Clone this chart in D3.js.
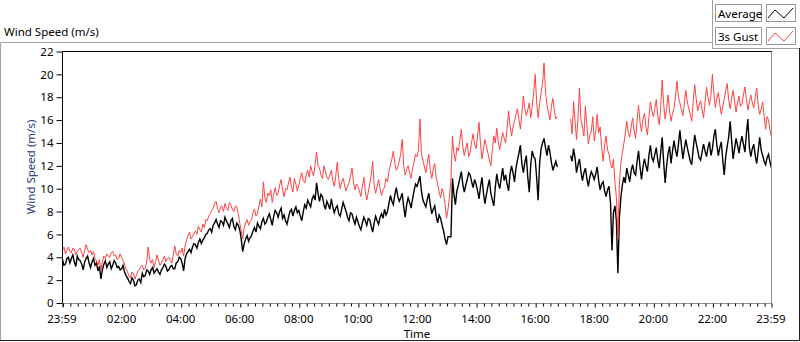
<!DOCTYPE html>
<html>
<head>
<meta charset="utf-8">
<script src="https://cdn.jsdelivr.net/npm/d3@7"></script>
<style>
  body { margin: 0; background: #fff; }
  svg { display: block; font-family: 'Noto Sans', sans-serif; }
</style>
</head>
<body>
<script>
// Samples every 3 minutes, 23:59 -> 23:59 next day, one row per hour (null = no data)
const stepMinutes = 3

const avgSpeed = [
  3.8, 3.3, 3.4, 3.9, 4.0, 3.5, 3.9, 4.2, 3.6, 3.2, 4.1, 3.8, 3.7, 3.4, 2.9, 3.6, 3.9, 4.1, 3.5, 3.1,
  3.6, 3.9, 3.3, 3.5, 2.8, 3.2, 2.1, 2.9, 3.4, 3.7, 3.1, 3.4, 3.6, 3.0, 3.3, 3.7, 3.5, 3.1, 3.2, 2.9,
  3.0, 3.3, 2.7, 2.4, 2.2, 1.9, 1.7, 2.2, 2.0, 1.5, 1.6, 2.0, 2.1, 1.8, 2.6, 2.3, 2.4, 2.9, 2.8, 2.5,
  2.9, 3.1, 2.6, 2.8, 3.0, 2.7, 2.5, 2.9, 3.1, 3.4, 3.2, 2.8, 2.9, 3.2, 3.3, 3.0, 3.0, 3.5, 3.6, 4.0,
  3.9, 3.5, 2.8, 3.9, 4.3, 4.5, 4.7, 4.4, 4.9, 5.2, 5.1, 4.8, 5.3, 5.6, 5.2, 5.5, 5.7, 6.0, 6.1, 6.4,
  6.5, 6.2, 6.8, 7.0, 7.3, 6.9, 6.6, 7.2, 7.1, 6.8, 7.5, 7.2, 6.9, 6.6, 7.2, 7.4, 6.7, 6.4, 7.0, 6.8,
  6.4, 5.6, 4.5, 5.2, 5.6, 5.9, 5.4, 5.7, 5.9, 6.3, 6.6, 6.2, 7.0, 6.7, 6.5, 7.1, 7.4, 6.9, 7.1, 7.5,
  7.8, 7.3, 6.8, 7.6, 8.1, 7.9, 7.5, 8.0, 8.3, 7.4, 7.7, 7.2, 6.9, 7.5, 8.0, 8.2, 7.6, 8.1, 8.4, 7.9,
  8.1, 7.6, 7.2, 8.0, 8.6, 8.3, 9.0, 8.7, 8.4, 9.1, 9.4, 9.0, 10.5, 9.6, 8.9, 9.5, 9.3, 8.6, 8.2, 8.9,
  8.6, 8.2, 9.1, 8.4, 7.9, 8.3, 8.5, 7.8, 7.6, 8.2, 8.8, 8.4, 8.0, 7.5, 7.2, 7.9, 7.8, 7.3, 6.9, 7.5,
  7.1, 6.7, 6.4, 7.0, 7.5, 7.2, 6.8, 7.4, 7.3, 6.7, 6.2, 7.0, 7.6, 7.2, 6.9, 7.5, 7.8, 7.4, 8.2, 7.7,
  8.0, 8.7, 9.4, 8.9, 8.6, 9.5, 10.1, 9.3, 8.9, 9.2, 9.6, 8.4, 7.5, 8.6, 9.2, 8.8, 8.3, 9.1, 9.8, 10.4,
  10.2, 10.6, 11.1, 9.8, 9.0, 8.7, 8.4, 9.1, 9.6, 8.6, 7.8, 8.2, 8.5, 7.6, 7.0, 7.7, 7.4, 6.8, 6.3, 5.6,
  5.1, 5.8, 5.8, 5.8, 10.9, 9.5, 8.6, 9.8, 10.3, 10.9, 11.5, 10.4, 9.7, 10.3, 10.8, 11.4, 11.2, 10.6, 10.1, 10.8,
  10.4, 9.8, 9.1, 10.2, 11.0, 9.6, 8.7, 9.5, 10.2, 10.8, 9.6, 9.0, 8.5, 10.1, 11.3, 10.5, 10.0, 10.9, 11.8, 10.7,
  11.2, 10.4, 9.8, 11.3, 12.0, 11.4, 10.6, 11.8, 12.5, 13.1, 13.8, 12.2, 11.4, 12.3, 12.9, 11.0, 9.7, 12.1, 13.3, 12.8,
  12.6, 11.0, 9.0, 12.2, 13.5, 14.0, 14.4, 13.6, 12.9, 13.8, 13.2, 12.3, 11.6, 12.0, 12.4, 11.9, null, null, null, null,
  null, null, null, null, 12.9, 12.4, 13.5, 12.7, 11.4, 12.1, 12.6, 11.5, 10.7, 11.4, 11.8, 10.9, 10.2, 11.0, 11.5, 11.2,
  10.8, 11.3, 11.9, 10.7, 9.9, 10.4, 10.6, 9.8, 9.3, 9.9, 10.2, 8.8, 4.6, 7.9, 8.5, 7.2, 2.6, 7.4, 9.2, 10.3,
  11.0, 10.5, 11.8, 11.2, 10.6, 11.6, 12.1, 11.4, 11.2, 12.4, 13.3, 11.9, 10.8, 11.9, 12.6, 12.0, 11.5, 12.9, 13.8, 12.7,
  12.4, 13.0, 13.6, 12.5, 11.8, 13.2, 14.5, 12.3, 10.5, 12.0, 13.1, 13.7, 12.2, 13.3, 14.2, 13.4, 12.8, 13.9, 15.1, 13.8,
  12.6, 13.5, 14.3, 13.6, 13.0, 12.4, 12.1, 13.5, 14.7, 14.0, 13.4, 12.7, 12.5, 13.2, 13.9, 13.3, 12.8, 13.6, 14.1, 12.9,
  13.5, 14.6, 15.2, 13.8, 12.9, 13.6, 14.1, 12.5, 11.2, 12.8, 13.7, 14.5, 15.9, 14.2, 12.6, 13.5, 14.4, 13.8, 13.1, 14.0,
  14.6, 13.9, 13.2, 14.8, 16.1, 13.6, 12.8, 13.5, 13.9, 12.9, 12.2, 13.3, 14.5, 13.4, 12.9, 12.4, 12.1, 12.7, 13.0, 12.3,
  11.8
]

const gustSpeed = [
  4.6, 4.9, 4.3, 4.6, 4.9, 4.5, 4.4, 4.8, 4.7, 4.2, 4.5, 4.7, 4.8, 4.4, 4.0, 4.6, 5.1, 4.7, 4.4, 4.6,
  4.2, 4.5, 3.9, 3.7, 3.3, 3.8, 2.9, 3.6, 4.1, 3.9, 4.3, 4.1, 4.0, 4.4, 4.5, 4.1, 4.2, 3.8, 3.9, 4.3,
  4.0, 3.7, 3.4, 3.0, 2.7, 2.4, 2.2, 2.7, 2.6, 2.1, 2.4, 2.8, 2.9, 3.2, 3.3, 2.9, 3.0, 3.6, 4.9, 3.8,
  3.5, 3.8, 3.1, 3.6, 4.2, 3.7, 3.3, 3.5, 3.8, 4.1, 3.6, 3.9, 4.0, 3.7, 3.5, 4.2, 5.0, 4.3, 4.1, 4.6,
  4.4, 4.8, 4.1, 5.0, 5.5, 5.9, 6.2, 5.6, 5.8, 6.1, 6.3, 6.0, 6.7, 6.4, 6.2, 6.9, 6.6, 7.3, 7.2, 7.6,
  7.8, 8.1, 8.3, 8.7, 8.9, 8.2, 7.9, 8.4, 8.5, 8.0, 8.7, 8.3, 8.1, 8.8, 8.6, 8.2, 8.0, 8.5, 8.4, 7.8,
  7.0, 6.3, 5.6, 6.6, 7.0, 7.3, 6.8, 7.1, 7.3, 7.9, 8.2, 7.6, 7.8, 8.5, 9.1, 8.4, 10.6, 9.2, 8.8, 9.6,
  9.4, 9.9, 8.8, 9.5, 10.1, 9.4, 9.6, 10.3, 10.8, 9.9, 9.3, 10.0, 9.9, 10.5, 11.0, 10.2, 9.7, 10.9, 10.4, 9.8,
  10.3, 10.9, 11.4, 10.7, 10.5, 11.2, 11.6, 11.0, 12.0, 11.5, 11.1, 12.1, 13.2, 12.0, 11.8, 11.2, 10.9, 12.0, 11.5, 11.0,
  10.8, 11.2, 11.6, 10.7, 10.2, 11.1, 12.3, 10.9, 10.0, 10.6, 10.9, 10.3, 9.8, 10.2, 10.5, 11.1, 11.8, 10.6, 9.9, 10.4,
  10.2, 9.8, 9.3, 10.2, 11.0, 9.8, 9.0, 9.7, 10.4, 11.2, 12.4, 10.3, 9.6, 10.2, 10.8, 10.0, 9.4, 9.9, 10.1, 10.9,
  10.6, 11.5, 12.1, 12.6, 13.3, 12.2, 11.6, 11.9, 12.4, 13.1, 14.3, 12.0, 11.2, 11.7, 12.0, 11.4, 10.9, 11.8, 12.3, 13.0,
  12.8, 13.4, 16.1, 13.0, 12.5, 11.9, 11.4, 12.3, 13.0, 11.6, 10.9, 11.7, 12.2, 11.0, 10.4, 9.7, 9.2, 10.0, 9.6, 8.6,
  7.4, 8.2, 9.3, 10.8, 14.6, 13.1, 12.4, 13.6, 13.3, 14.2, 15.2, 13.7, 12.9, 13.5, 14.0, 12.8, 13.2, 14.1, 14.8, 13.9,
  13.5, 14.6, 15.8, 13.9, 12.6, 13.5, 14.3, 13.7, 13.1, 12.5, 12.0, 13.4, 14.6, 14.0, 15.3, 14.1, 13.4, 14.2, 14.9, 14.4,
  14.0, 15.3, 16.8, 15.5, 14.6, 15.4, 15.9, 16.5, 17.0, 16.1, 15.2, 16.6, 18.1, 17.0, 16.4, 16.9, 17.5, 16.2, 17.2, 18.4,
  20.0, 17.6, 16.2, 17.4, 18.4, 19.2, 21.0, 18.5, 17.3, 16.6, 16.0, 17.2, 17.9, 16.8, 16.1, 16.3, null, null, null, null,
  null, null, null, null, 16.1, 14.8, 17.6, 15.9, 14.3, 16.2, 18.8, 16.0, 15.4, 14.6, 17.2, 15.5, 13.9, 14.7, 15.0, 16.3,
  14.2, 15.0, 16.5, 14.9, 15.4, 13.6, 12.4, 13.8, 14.6, 13.4, 13.0, 12.2, 11.8, 12.6, 10.6, 9.2, 5.6, 10.3, 12.3, 13.1,
  13.9, 14.8, 15.9, 14.9, 14.5, 15.4, 16.2, 15.1, 14.4, 16.0, 17.3, 15.8, 15.0, 16.1, 16.6, 15.4, 14.7, 16.2, 17.6, 16.8,
  16.3, 17.0, 17.8, 16.4, 15.6, 17.2, 19.5, 17.4, 16.1, 17.0, 18.2, 16.8, 15.9, 16.6, 17.0, 18.1, 19.4, 18.0, 17.5, 16.9,
  16.4, 17.5, 18.6, 17.6, 17.0, 16.5, 15.9, 17.6, 19.1, 17.9, 16.8, 17.3, 17.7, 16.9, 16.2, 17.5, 18.9, 18.0, 17.3, 18.2,
  20.0, 18.3, 17.1, 17.9, 18.4, 17.4, 16.5, 17.2, 17.8, 18.6, 19.2, 17.8, 17.0, 17.9, 18.6, 17.6, 16.7, 17.5, 18.1, 17.2,
  17.4, 18.2, 18.9, 17.8, 16.9, 17.6, 18.2, 17.5, 17.1, 18.0, 18.8, 17.3, 16.5, 17.0, 17.6, 16.4, 15.2, 16.3, 16.0, 15.1,
  14.5
]

const seriesNames = ['Average', '3s Gust']
const seriesColors = ['#000000', '#ff4242']
const yTicks = [0, 2, 4, 6, 8, 10, 12, 14, 16, 18, 20, 22]
const xTickLabels = ['23:59', '02:00', '04:00', '06:00', '08:00', '10:00', '12:00',
  '14:00', '16:00', '18:00', '20:00', '22:00', '23:59']

const width = 800
const height = 342
const plotLeft = 62.5
const plotRight = 771.5
const plotTop = 51.5
const plotBottom = 303
const fontSize = 11.5

const startTime = new Date(2024, 0, 1, 23, 59)
const endTime = new Date(2024, 0, 2, 23, 59)

function tickDate(label, i) {
  if (i === 0) return startTime
  if (i === xTickLabels.length - 1) return endTime
  const [h, m] = label.split(':').map(Number)
  return new Date(2024, 0, 2, h, m)
}

const majorTicks = xTickLabels.map(tickDate)
const minorTicks = d3.timeMinute.every(15).range(startTime, endTime)
  .filter(d => !majorTicks.some(t => +t === +d))

const svg = d3.select('body').append('svg')
  .attr('width', width)
  .attr('height', height)

const x = d3.scaleTime().domain([startTime, endTime]).range([plotLeft, plotRight])
const y = d3.scaleLinear().domain([0, 22]).range([plotBottom, plotTop])

// Outer frame
const frame = svg.append('g').attr('fill', 'none').attr('stroke-width', 1)
frame.append('path').attr('stroke', '#a0a0a0').attr('d', 'M0.5,341V42.5H712')
frame.append('path').attr('stroke', '#a0a0a0').attr('d', 'M712.5,0V48.5H800')
frame.append('path').attr('stroke', '#202020').attr('d', 'M0,340.5H799.5V48')

// Title
svg.append('text')
  .attr('x', 4)
  .attr('y', 36)
  .attr('font-size', fontSize)
  .attr('fill', '#000')
  .text('Wind Speed (m/s)')

// Legend
const legend = svg.append('g')
seriesNames.forEach((name, i) => {
  const top = 4 + i * 23
  legend.append('rect')
    .attr('x', 715.5).attr('y', top + 0.5)
    .attr('width', 46).attr('height', 17)
    .attr('fill', '#fff').attr('stroke', '#9a9a9a')
  legend.append('text')
    .attr('x', 718).attr('y', top + 13.5)
    .attr('font-size', fontSize).attr('fill', '#000')
    .text(name)
  legend.append('rect')
    .attr('x', 766.5).attr('y', top + 0.5)
    .attr('width', 29).attr('height', 17)
    .attr('fill', '#fff').attr('stroke', '#9a9a9a')
  legend.append('path')
    .attr('fill', 'none')
    .attr('stroke', seriesColors[i])
    .attr('d', `M768,${top + 14}L775,${top + 6}L784,${top + 14}L793,${top + 4}`)
})

// Clip for lines
svg.append('clipPath').attr('id', 'plot-clip')
  .append('rect')
  .attr('x', plotLeft).attr('y', plotTop)
  .attr('width', plotRight - plotLeft).attr('height', plotBottom - plotTop)

const line = d3.line()
  .defined(d => d != null)
  .x((d, i) => x(d3.timeMinute.offset(startTime, i * stepMinutes)))
  .y(d => y(d))

const lines = svg.append('g').attr('clip-path', 'url(#plot-clip)')
lines.append('path')
  .attr('fill', 'none')
  .attr('stroke', seriesColors[0])
  .attr('stroke-width', 1.4)
  .attr('d', line(avgSpeed))
lines.append('path')
  .attr('fill', 'none')
  .attr('stroke', seriesColors[1])
  .attr('stroke-width', 1)
  .attr('d', line(gustSpeed))

// Plot border
svg.append('path').attr('fill', 'none').attr('stroke', '#000')
  .attr('d', `M${plotLeft},${plotBottom}V${plotTop}H${plotRight + 0.5}`)
svg.append('path').attr('fill', 'none').attr('stroke', '#909090')
  .attr('d', `M${plotRight},${plotTop}V${plotBottom + 0.5}H${plotLeft}`)

// Y axis
svg.append('g')
  .attr('transform', `translate(${plotLeft},0)`)
  .call(d3.axisLeft(y).tickValues(yTicks).tickSize(6).tickPadding(3))
  .call(g => g.select('.domain').remove())
  .call(g => g.selectAll('text').attr('font-size', fontSize).attr('fill', '#000')
    .attr('font-family', 'Noto Sans'))

// X axis: minor and major ticks
svg.append('g')
  .attr('transform', `translate(0,${plotBottom + 0.5})`)
  .call(d3.axisBottom(x).tickValues(minorTicks).tickSize(3).tickFormat(''))
  .call(g => g.select('.domain').remove())

svg.append('g')
  .attr('transform', `translate(0,${plotBottom + 0.5})`)
  .call(d3.axisBottom(x).tickValues(majorTicks).tickSize(4).tickPadding(7)
    .tickFormat((d, i) => xTickLabels[i]))
  .call(g => g.select('.domain').remove())
  .call(g => g.selectAll('text').attr('font-size', fontSize).attr('fill', '#000')
    .attr('font-family', 'Noto Sans').attr('dx', -1))

// Axis titles
svg.append('text')
  .attr('x', (plotLeft + plotRight) / 2)
  .attr('y', 338)
  .attr('text-anchor', 'middle')
  .attr('font-size', fontSize)
  .attr('fill', '#000')
  .text('Time')

svg.append('text')
  .attr('transform', `translate(35,167) rotate(-90)`)
  .attr('text-anchor', 'middle')
  .attr('font-size', fontSize)
  .attr('fill', '#1e3a78')
  .text('Wind Speed (m/s)')
</script>
</body>
</html>
